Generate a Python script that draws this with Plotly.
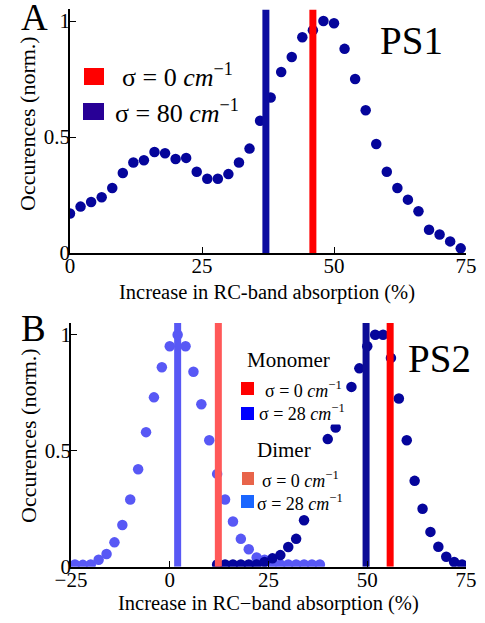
import plotly.graph_objects as go

# ---------------- data ----------------
# Panel A (PS1)
ps1_x = [0, 2, 4, 6, 8, 10, 12, 14, 16, 18, 20, 22, 24, 26, 28, 30, 32, 34, 36, 38,
         40, 42, 44, 46, 48, 50, 52, 54, 56, 58, 60, 62, 64, 66, 68, 70, 72, 74]
ps1_y = [0.17, 0.20, 0.22, 0.24, 0.28, 0.345, 0.39, 0.40, 0.435, 0.43, 0.405, 0.41,
         0.35, 0.32, 0.32, 0.34, 0.39, 0.45, 0.57, 0.67, 0.78, 0.845, 0.93, 0.96,
         1.0, 0.99, 0.88, 0.75, 0.615, 0.47, 0.35, 0.28, 0.23, 0.18, 0.10, 0.08,
         0.05, 0.02]
ps1_lines = {"σ0": 46.0, "σ80": 37.1}

# Panel B (PS2)
dimer_x = [-24, -22, -20, -18, -16, -14, -12, -10, -8, -6, -4, -2, 0, 2, 4, 6, 8, 10,
           12, 14, 16, 18, 20, 22, 24, 26, 28, 30, 32, 34, 36, 38]
dimer_y = [0.01, 0.008, 0.01, 0.03, 0.055, 0.105, 0.18, 0.29, 0.42, 0.58, 0.73, 0.86,
           0.95, 1.0, 0.95, 0.84, 0.70, 0.545, 0.40, 0.29, 0.195, 0.12, 0.075, 0.04,
           0.03, 0.015, 0.01, 0.01, 0.01, 0.01, 0.01, 0.01]
mono_x = [12, 14, 16, 18, 20, 22, 24, 26, 28, 30, 32, 34, 40, 42, 46, 48, 50, 52, 54,
          56, 58, 60, 62, 64, 66, 68, 70, 72, 74]
mono_y = [0.01, 0.01, 0.01, 0.01, 0.01, 0.01, 0.02, 0.036, 0.05, 0.085, 0.12, 0.2,
          0.55, 0.6, 0.775, 0.855, 0.95, 1.0, 1.0, 0.9, 0.725, 0.545, 0.37, 0.25,
          0.15, 0.086, 0.043, 0.02, 0.01]
ps2_lines = {"mono0": 55.8, "mono28": 49.7, "dimer0": 12.3, "dimer28": 2.0}

x_ticks_a = [0, 25, 50, 75]
x_ticks_b = [-25, 0, 25, 50, 75]
y_ticks = [0, 0.5, 1]
y_ticktext = ["0", "0.5", "1"]
line_top = 1.05

# ---------------- styling ----------------
W, H = 485, 623
SERIF = "Liberation Serif"
DARK = "rgb(5,5,155)"
LIGHT = "rgb(88,88,245)"


def px(x):
    return x / W


def py(y):
    return 1 - y / H


fig = go.Figure()

# Panel A
fig.add_trace(go.Scatter(x=ps1_x, y=ps1_y, mode="markers",
                         marker=dict(size=10.5, color=DARK), xaxis="x", yaxis="y"))
fig.add_trace(go.Scatter(x=[ps1_lines["σ80"]] * 2, y=[0, line_top], mode="lines",
                         line=dict(color="rgb(12,12,160)", width=7), xaxis="x", yaxis="y"))
fig.add_trace(go.Scatter(x=[ps1_lines["σ0"]] * 2, y=[0, line_top], mode="lines",
                         line=dict(color="rgb(255,0,0)", width=7), xaxis="x", yaxis="y"))

# Panel B
fig.add_trace(go.Scatter(x=[ps2_lines["dimer28"]] * 2, y=[0, line_top], mode="lines",
                         line=dict(color=LIGHT, width=7), xaxis="x2", yaxis="y2"))
fig.add_trace(go.Scatter(x=dimer_x, y=dimer_y, mode="markers",
                         marker=dict(size=10.5, color=LIGHT), xaxis="x2", yaxis="y2"))
fig.add_trace(go.Scatter(x=mono_x, y=mono_y, mode="markers",
                         marker=dict(size=10.5, color=DARK), xaxis="x2", yaxis="y2"))
fig.add_trace(go.Scatter(x=[ps2_lines["dimer0"]] * 2, y=[0, line_top], mode="lines",
                         line=dict(color="rgb(255,88,88)", width=7), xaxis="x2", yaxis="y2"))
fig.add_trace(go.Scatter(x=[ps2_lines["mono28"]] * 2, y=[0, line_top], mode="lines",
                         line=dict(color="rgb(12,12,150)", width=7), xaxis="x2", yaxis="y2"))
fig.add_trace(go.Scatter(x=[ps2_lines["mono0"]] * 2, y=[0, line_top], mode="lines",
                         line=dict(color="rgb(255,0,0)", width=7), xaxis="x2", yaxis="y2"))

axis_common = dict(showgrid=False, zeroline=False, showline=True, linecolor="black",
                   linewidth=1.6, ticks="inside", ticklen=6, tickwidth=1.4,
                   tickcolor="black", tickfont=dict(family=SERIF, size=21, color="black"),
                   fixedrange=True, automargin=False)
x_common = dict(axis_common, ticklabelstandoff=-7)
y_common = dict(axis_common, ticklabelstandoff=-6)

fig.update_layout(
    width=W, height=H, autosize=False,
    margin=dict(l=0, r=0, t=0, b=0, pad=0, autoexpand=False),
    paper_bgcolor="white", plot_bgcolor="white",
    showlegend=False,
    xaxis=dict(domain=[px(70), px(466)], range=[0, 75], anchor="y",
               tickvals=x_ticks_a, **x_common),
    yaxis=dict(domain=[py(253), py(9.4)], range=[0, line_top], anchor="x",
               tickvals=y_ticks, ticktext=y_ticktext, **y_common),
    xaxis2=dict(domain=[px(71), px(466)], range=[-25, 75], anchor="y2",
                tickvals=x_ticks_b, **x_common),
    yaxis2=dict(domain=[py(566.7), py(323.1)], range=[0, line_top], anchor="x2",
                tickvals=y_ticks, ticktext=y_ticktext, **y_common),
)

annotations = []


def text(x, y, s, size, xanchor="center", angle=0, bg=None):
    d = dict(x=px(x), y=py(y), xref="paper", yref="paper", text=s, showarrow=False,
             xanchor=xanchor, yanchor="middle", textangle=angle,
             font=dict(family=SERIF, size=size, color="black"), borderpad=0)
    if bg:
        d["bgcolor"] = bg
    annotations.append(d)


# panel letters and titles
text(34, 17, "A", 37)
text(33, 328, "B", 37)
text(411, 41, "PS1", 39)
text(439, 358, "PS2", 39)

# axis titles
text(267, 292, "Increase in RC-band absorption (%)", 20.5)
text(268, 603, "Increase in RC\u2212band absorption (%)", 20.5)
text(28, 124, "Occurences (norm.)", 22, angle=-90)
text(28, 436, "Occurences (norm.)", 22, angle=-90)

# legend A
text(121, 76, "σ = 0 <i>cm</i><sup>\u22121</sup>", 26, xanchor="left")
text(114, 111, "σ = 80 <i>cm</i><sup>\u22121</sup>", 26, xanchor="left")

# legend B
text(288, 360, "Monomer", 21, bg="white")
text(264, 389, "σ = 0 <i>cm</i><sup>\u22121</sup>", 18, xanchor="left", bg="white")
text(258, 413, "σ = 28 <i>cm</i><sup>\u22121</sup>", 18, xanchor="left", bg="white")
text(284, 450, "Dimer", 21, bg="white")
text(261, 479, "σ = 0 <i>cm</i><sup>\u22121</sup>", 18, xanchor="left", bg="white")
text(256, 502, "σ = 28 <i>cm</i><sup>\u22121</sup>", 18, xanchor="left", bg="white")

fig.update_layout(annotations=annotations)

shapes = []


def square(x0, y0, x1, y1, color):
    shapes.append(dict(type="rect", xref="paper", yref="paper",
                       x0=px(x0), x1=px(x1), y0=py(y1), y1=py(y0),
                       fillcolor=color, line=dict(width=0), layer="above"))


square(84, 68, 104, 85, "rgb(255,0,0)")
square(83, 103, 104, 120, "rgb(40,0,150)")
square(241, 382, 254, 395, "rgb(255,0,0)")
square(241, 407, 254, 420, "rgb(0,0,255)")
square(242, 472, 254, 485, "rgb(232,100,74)")
square(241, 495, 254, 508, "rgb(26,102,255)")
fig.update_layout(shapes=shapes)

fig.write_html("out.html", config={"responsive": False})
